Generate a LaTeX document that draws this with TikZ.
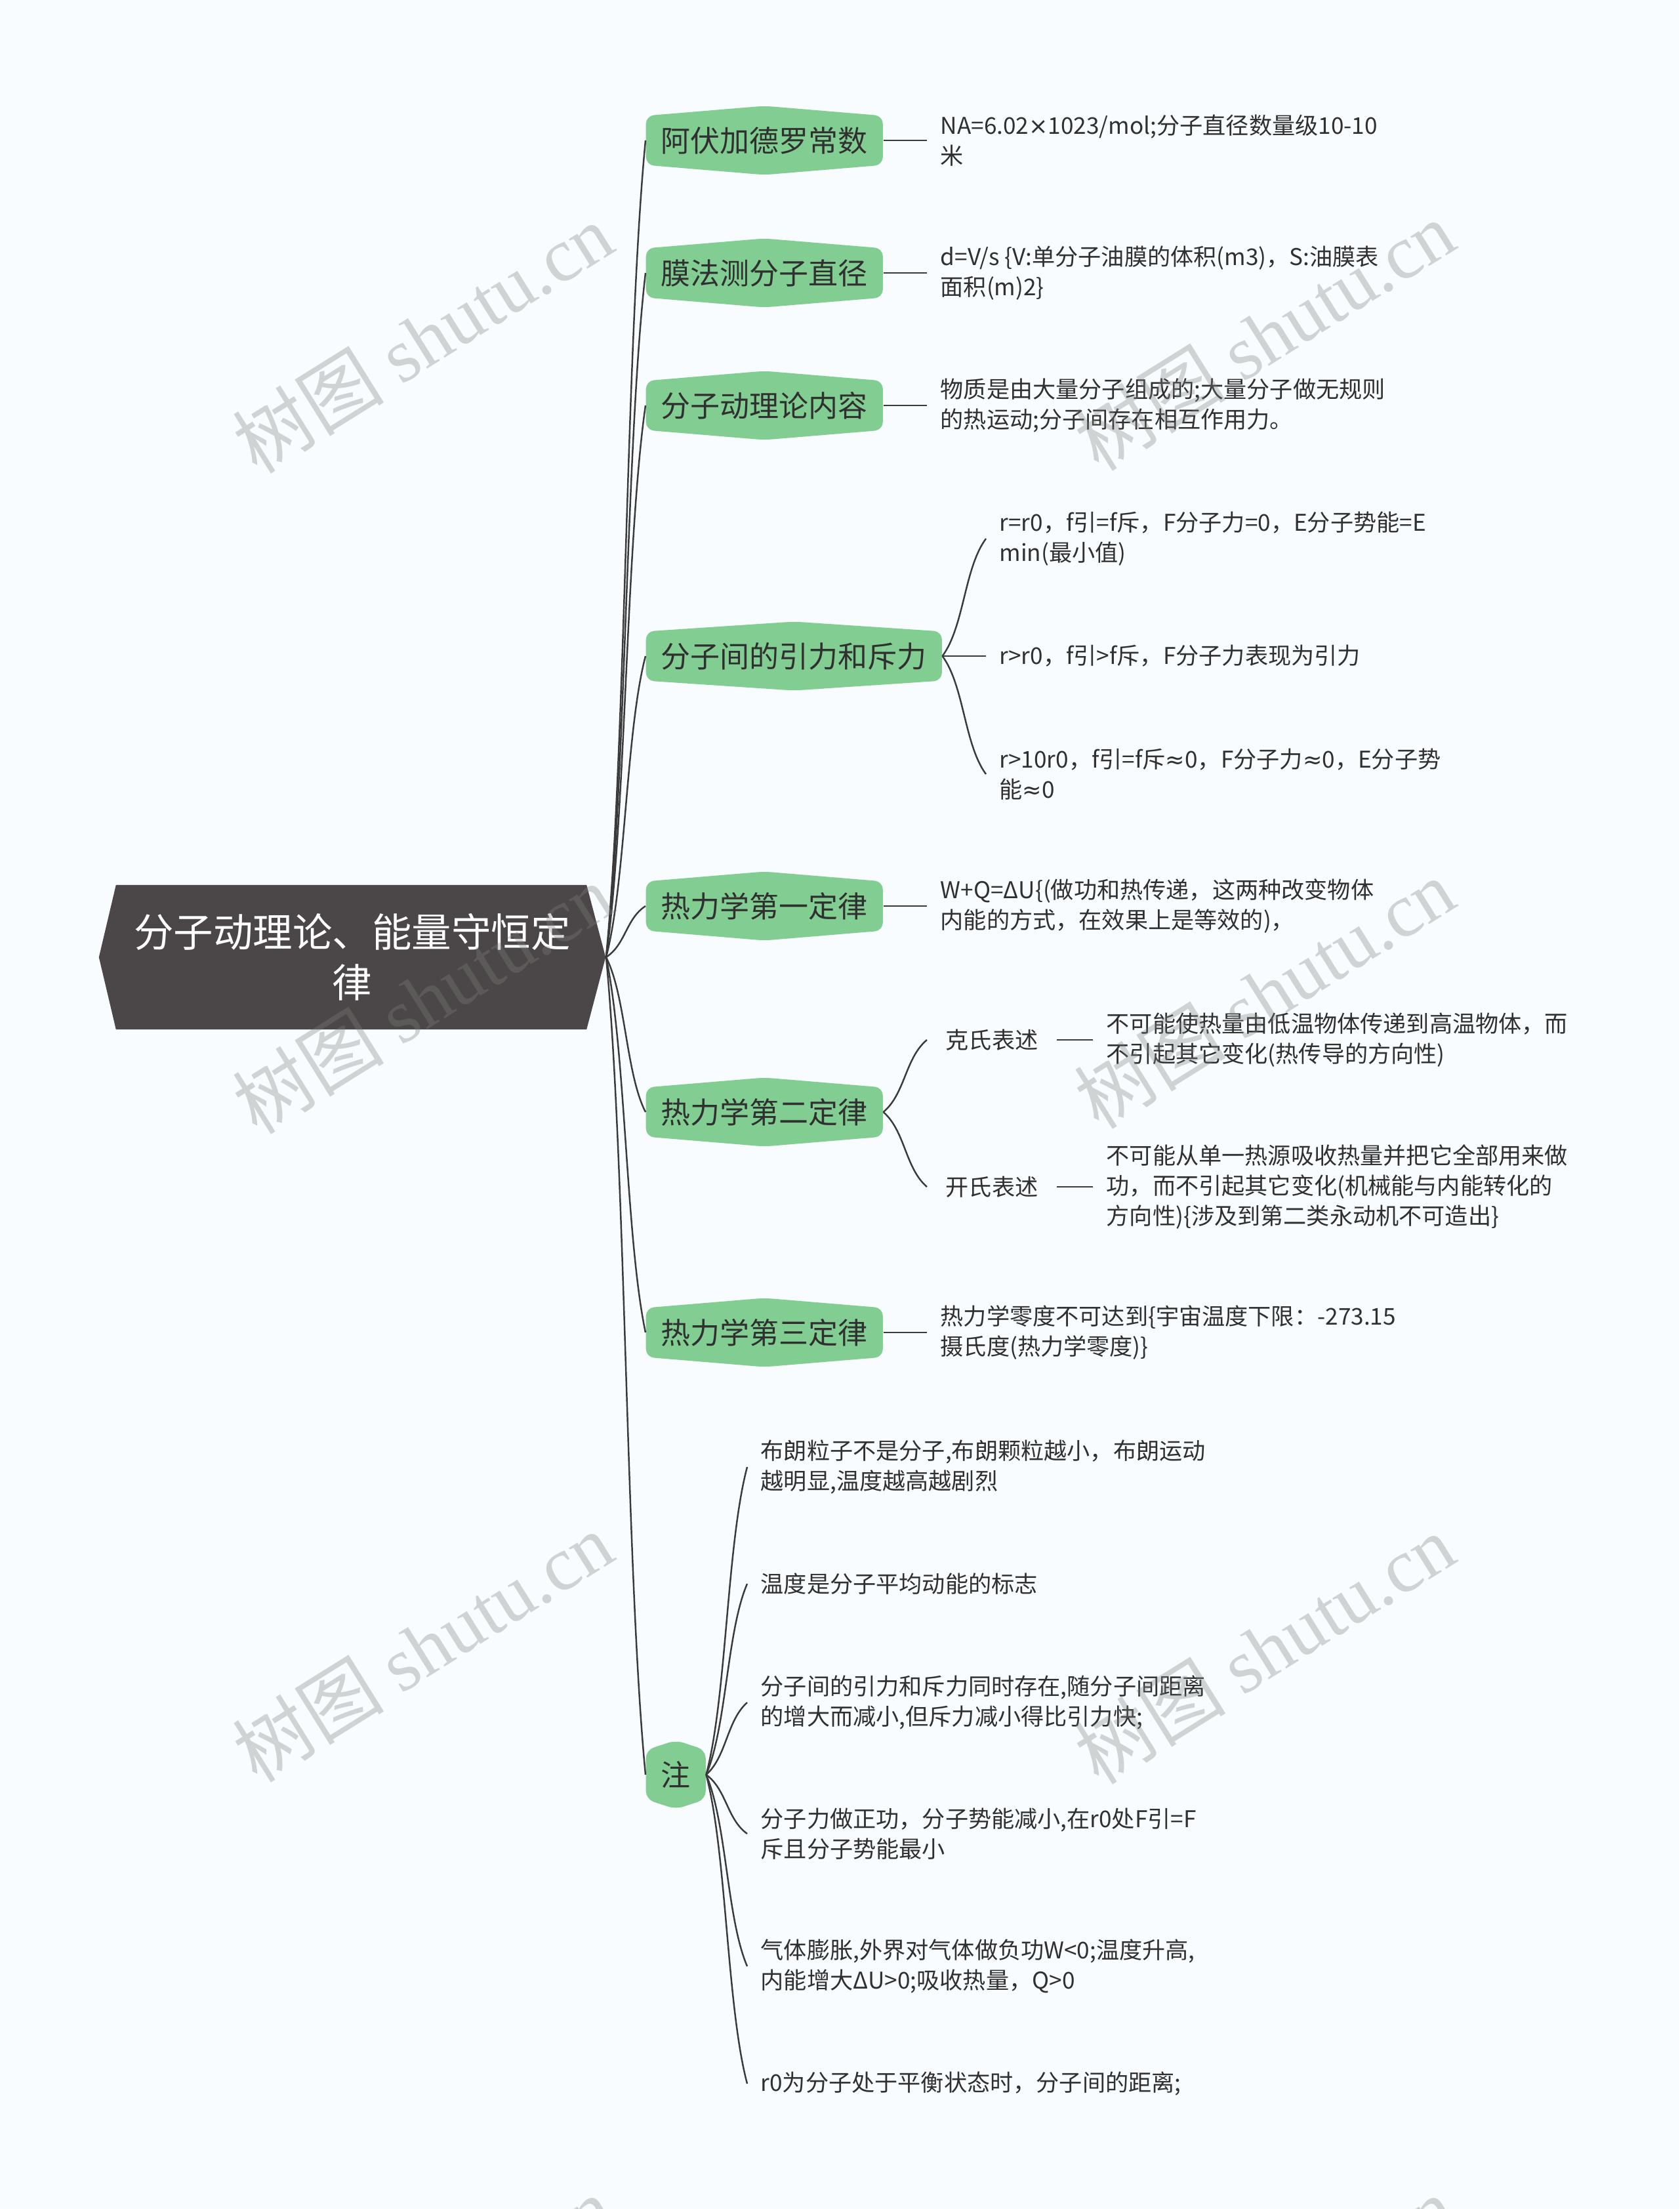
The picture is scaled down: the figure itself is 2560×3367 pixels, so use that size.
\documentclass[tikz,border=0pt]{standalone}
\usepackage{fontspec}
\setmainfont{Noto Sans CJK SC}
\newfontfamily\wmlatin{Liberation Serif}
\newfontfamily\narrowsym{DejaVu Sans}
\usetikzlibrary{calc}
\definecolor{bgpaper}{RGB}{248,252,254}
\definecolor{rootgray}{RGB}{75,70,71}
\definecolor{topicgreen}{RGB}{130,206,146}
\definecolor{inkgray}{RGB}{48,48,48}
\definecolor{linkgray}{RGB}{58,58,58}

\tikzset{
  rootbox/.style={minimum width=7.72cm, minimum height=2.2cm, inner sep=0pt,
    text=white, align=center, font=\fontsize{17.2}{22}\selectfont,
    path picture={\fill[rootgray]
      ([xshift=0.26cm]path picture bounding box.north west) -- ([xshift=-0.29cm]path picture bounding box.north east)
      -- (path picture bounding box.east) -- ([xshift=-0.29cm]path picture bounding box.south east)
      -- ([xshift=0.26cm]path picture bounding box.south west) -- (path picture bounding box.west) -- cycle;}},
  topic/.style={anchor=west, minimum height=1.05cm, inner xsep=0.23cm, inner ysep=0pt,
    text=inkgray, font=\fontsize{12.8}{15}\selectfont,
    path picture={\fill[topicgreen, rounded corners=3.5pt]
      ([yshift=-0.15cm]path picture bounding box.north west) -- (path picture bounding box.north)
      -- ([yshift=-0.15cm]path picture bounding box.north east) -- ([yshift=0.15cm]path picture bounding box.south east)
      -- (path picture bounding box.south) -- ([yshift=0.15cm]path picture bounding box.south west) -- cycle;}},
  subtopic/.style={anchor=west, inner xsep=0.28cm, text=inkgray, font=\fontsize{10}{13.1}\selectfont},
  leaf/.style={anchor=west, inner xsep=0.2cm, inner ysep=2pt, align=left, text=inkgray,
    font=\fontsize{10}{13.1}\selectfont},
  link/.style={draw=linkgray, line width=0.7pt},
  curvy/.style={to path={let \p1=(\tikztostart), \p2=(\tikztotarget) in
    .. controls ({(\x1+\x2)/2},{0.75*\y1+0.25*\y2}) and ({(\x1+\x2)/2},{0.25*\y1+0.75*\y2}) .. (\tikztotarget)}},
  wmark/.style={rotate=32, text=gray, opacity=0.33, font=\fontsize{33}{38}\selectfont}
}

\begin{document}
\begin{tikzpicture}[x=0.01cm,y=-0.01cm]
\useasboundingbox (0,0) rectangle (2560,3367);
\fill[bgpaper] (0,0) rectangle (2560,3367);

% root and main topics
\node[rootbox] (root) at (537,1459) {分子动理论、能量守恒定\\律};
\node[topic] (avo) at (984,214) {阿伏加德罗常数};
\node[topic] (film) at (984,416) {膜法测分子直径};
\node[topic] (kin) at (984,618) {分子动理论内容};
\node[topic] (force) at (984,1000) {分子间的引力和斥力};
\node[topic] (first) at (984,1381) {热力学第一定律};
\node[topic] (second) at (984,1695) {热力学第二定律};
\node[topic] (third) at (984,2031) {热力学第三定律};
\node[topic] (note) at (984,2705) {注};

% details
\node[leaf] (avoL) at (1413,214) {NA=6.02{\narrowsym ×}1023/mol;分子直径数量级10-10\\米};
\node[leaf] (filmL) at (1413,416) {d=V/s \{V:单分子油膜的体积(m3)，S:油膜表\\面积(m)2\}};
\node[leaf] (kinL) at (1413,618) {物质是由大量分子组成的;大量分子做无规则\\的热运动;分子间存在相互作用力。};
\node[leaf] (forceA) at (1503,821) {r=r0，f引=f斥，F分子力=0，E分子势能=E\\min(最小值)};
\node[leaf] (forceB) at (1503,1000) {r>r0，f引>f斥，F分子力表现为引力};
\node[leaf] (forceC) at (1503,1180) {r>10r0，f引=f斥{\narrowsym ≈}0，F分子力{\narrowsym ≈}0，E分子势\\能{\narrowsym ≈}0};
\node[leaf] (firstL) at (1413,1381) {W+Q=ΔU\{(做功和热传递，这两种改变物体\\内能的方式，在效果上是等效的)，};
\node[subtopic] (claus) at (1413,1585) {克氏表述};
\node[subtopic] (kelv) at (1413,1809) {开氏表述};
\node[leaf] (clausL) at (1666,1585) {不可能使热量由低温物体传递到高温物体，而\\不引起其它变化(热传导的方向性)};
\node[leaf] (kelvL) at (1666,1809) {不可能从单一热源吸收热量并把它全部用来做\\功，而不引起其它变化(机械能与内能转化的\\方向性)\{涉及到第二类永动机不可造出\}};
\node[leaf] (thirdL) at (1413,2031) {热力学零度不可达到\{宇宙温度下限：-273.15\\摄氏度(热力学零度)\}};
\node[leaf] (noteA) at (1139,2236) {布朗粒子不是分子,布朗颗粒越小，布朗运动\\越明显,温度越高越剧烈};
\node[leaf] (noteB) at (1139,2414) {温度是分子平均动能的标志};
\node[leaf] (noteC) at (1139,2595) {分子间的引力和斥力同时存在,随分子间距离\\的增大而减小,但斥力减小得比引力快;};
\node[leaf] (noteD) at (1139,2795) {分子力做正功，分子势能减小,在r0处F引=F\\斥且分子势能最小};
\node[leaf] (noteE) at (1139,2997) {气体膨胀,外界对气体做负功W<0;温度升高,\\内能增大ΔU>0;吸收热量，Q>0};
\node[leaf] (noteF) at (1139,3176) {r0为分子处于平衡状态时，分子间的距离;};

% connectors
\foreach \b in {avo,film,kin,force,first,second,third,note}
  \draw[link] (root.east) to[curvy] (\b.west);
\foreach \a/\b in {avo/avoL,film/filmL,kin/kinL,first/firstL,third/thirdL,claus/clausL,kelv/kelvL}
  \draw[link] (\a.east) -- (\b.west);
\foreach \b in {forceA,forceB,forceC}
  \draw[link] (force.east) to[curvy] (\b.west);
\foreach \b in {claus,kelv}
  \draw[link] (second.east) to[curvy] (\b.west);
\foreach \b in {noteA,noteB,noteC,noteD,noteE,noteF}
  \draw[link] (note.east) to[curvy] (\b.west);

% watermark
\foreach \wx/\wy [count=\i] in {644/515,1927/511,644/1522,1927/1514,644/2510,1927/2513,644/3522,1927/3522}
  \node[wmark] (wm\i) at (\wx,\wy) {树图 {\wmlatin shutu.cn}};
\end{tikzpicture}
\end{document}
